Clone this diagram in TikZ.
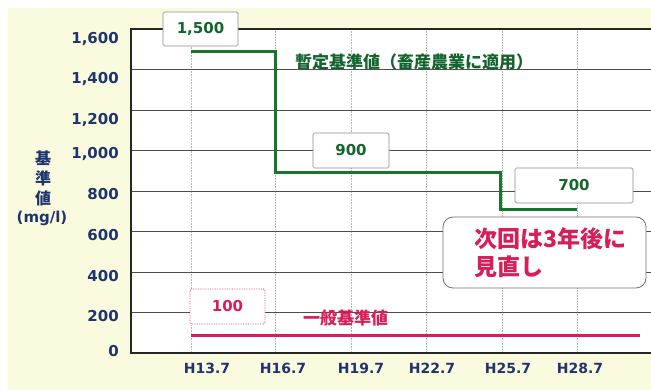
\documentclass[tikz,border=0pt]{standalone}
\usepackage{fontspec}
\setmainfont{DejaVu Sans}
\newfontfamily\jp{Noto Sans CJK JP}
\definecolor{bgy}{RGB}{250,250,222}
\definecolor{grn}{RGB}{22,118,48}
\definecolor{grntxt}{RGB}{20,100,45}
\definecolor{crim}{RGB}{215,30,90}
\definecolor{navy}{RGB}{30,52,110}
\tikzset{
  hgrid/.style={draw=black!70, line width=0.7pt},
  vgrid/.style={draw=black!30, line width=0.6pt, densely dotted},
  frame/.style={draw=black!85, line width=1.2pt},
  ticklab/.style={font=\bfseries\fontsize{15}{15}\selectfont, text=navy, inner sep=0pt},
  xlab/.style={font=\bfseries\fontsize{14}{14}\selectfont, text=navy, inner sep=0pt},
  valbox/.style={draw=black!45, line width=0.7pt, fill=white, rounded corners=1.5pt, inner sep=0pt, font=\bfseries\fontsize{15}{15}\selectfont},
  jpgreen/.style={font=\jp\bfseries\fontsize{17}{17}\selectfont, text=grntxt, inner sep=0pt},
  jpred/.style={font=\jp\bfseries\fontsize{17}{17}\selectfont, text=crim, inner sep=0pt},
  callout/.style={draw=black!55, line width=0.8pt, fill=white, rounded corners=10pt},
}
\begin{document}
\begin{tikzpicture}[x=1pt,y=-1pt]
\useasboundingbox (0,0) rectangle (651,390);
\fill[white] (0,0) rectangle (651,390);
\fill[bgy] (8,8) rectangle (651,390);
\fill[white] (131,29) rectangle (651,353);
% vertical grid
\foreach \x in {191,275,351,426,502,577} \draw[vgrid] (\x,29) -- (\x,353);
% horizontal grid
\foreach \yy in {69.5,110,150.5,191,231.5,272,312.5} \draw[hgrid] (131,\yy) -- (651,\yy);
% frame
\draw[frame] (651,29) -- (131,29) -- (131,353) -- (651,353);
% y tick labels
\node[ticklab, anchor=east] (t1600) at (119,39) {1,600};
\node[ticklab, anchor=east] (t1400) at (119,79) {1,400};
\node[ticklab, anchor=east] (t1200) at (119,120) {1,200};
\node[ticklab, anchor=east] (t1000) at (119,154) {1,000};
\node[ticklab, anchor=east] (t800) at (119,194) {800};
\node[ticklab, anchor=east] (t600) at (119,235) {600};
\node[ticklab, anchor=east] (t400) at (119,276) {400};
\node[ticklab, anchor=east] (t200) at (119,316) {200};
\node[ticklab, anchor=east] (t0) at (119,351) {0};
% x labels
\node[xlab] (x1) at (207,368) {H13.7};
\node[xlab] (x2) at (283,368) {H16.7};
\node[xlab] (x3) at (361,368) {H19.7};
\node[xlab] (x4) at (432,368) {H22.7};
\node[xlab] (x5) at (508,368) {H25.7};
\node[xlab] (x6) at (580,368) {H28.7};
% y-axis title
\node[font=\jp\bfseries\fontsize{16}{16}\selectfont, text=navy, inner sep=0pt] (yt1) at (43,158) {基};
\node[font=\jp\bfseries\fontsize{16}{16}\selectfont, text=navy, inner sep=0pt] (yt2) at (43,178) {準};
\node[font=\jp\bfseries\fontsize{16}{16}\selectfont, text=navy, inner sep=0pt] (yt3) at (43,198) {値};
\node[font=\bfseries\fontsize{15}{15}\selectfont, text=navy, inner sep=0pt] (unit) at (42,218) {(mg/l)};
% green provisional line
\coordinate (g0) at (191,52);
\coordinate (g1) at (275,52);
\coordinate (g2) at (275,173);
\coordinate (g3) at (500,173);
\coordinate (g4) at (500,210);
\coordinate (g5) at (577,210);
\draw[grn, line width=3pt] (g0) -- (g1) -- (g2) -- (g3) -- (g4) -- (g5);
% red general line
\coordinate (r0) at (191,335);
\coordinate (r1) at (640,335);
\draw[crim, line width=3pt] (r0) -- (r1);
% value boxes
\node[valbox, text=grntxt, minimum width=75pt, minimum height=34pt] (b1500) at (200.5,29) {1,500};
\node[valbox, text=grntxt, minimum width=76pt, minimum height=35pt] (b900) at (351,150.5) {900};
\node[valbox, text=grntxt, minimum width=118pt, minimum height=35pt] (b700) at (574,185.5) {700};
\node[valbox, text=crim, draw=crim!85, densely dotted, line width=0.9pt, minimum width=75pt, minimum height=35pt] (b100) at (227.5,306.5) {100};
% series labels
\node[jpgreen, anchor=west] (lprov) at (295,62) {暫定基準値（畜産農業に適用）};
\node[jpred, anchor=west] (lgen) at (303,318) {一般基準値};
% callout
\draw[callout] (443,217) rectangle (646,288);
\node[font=\jp\bfseries\fontsize{23}{28}\selectfont, text=crim, inner sep=0pt, anchor=north west, align=left] (note) at (474,227) {次回は3年後に\\見直し};
\end{tikzpicture}
\end{document}
